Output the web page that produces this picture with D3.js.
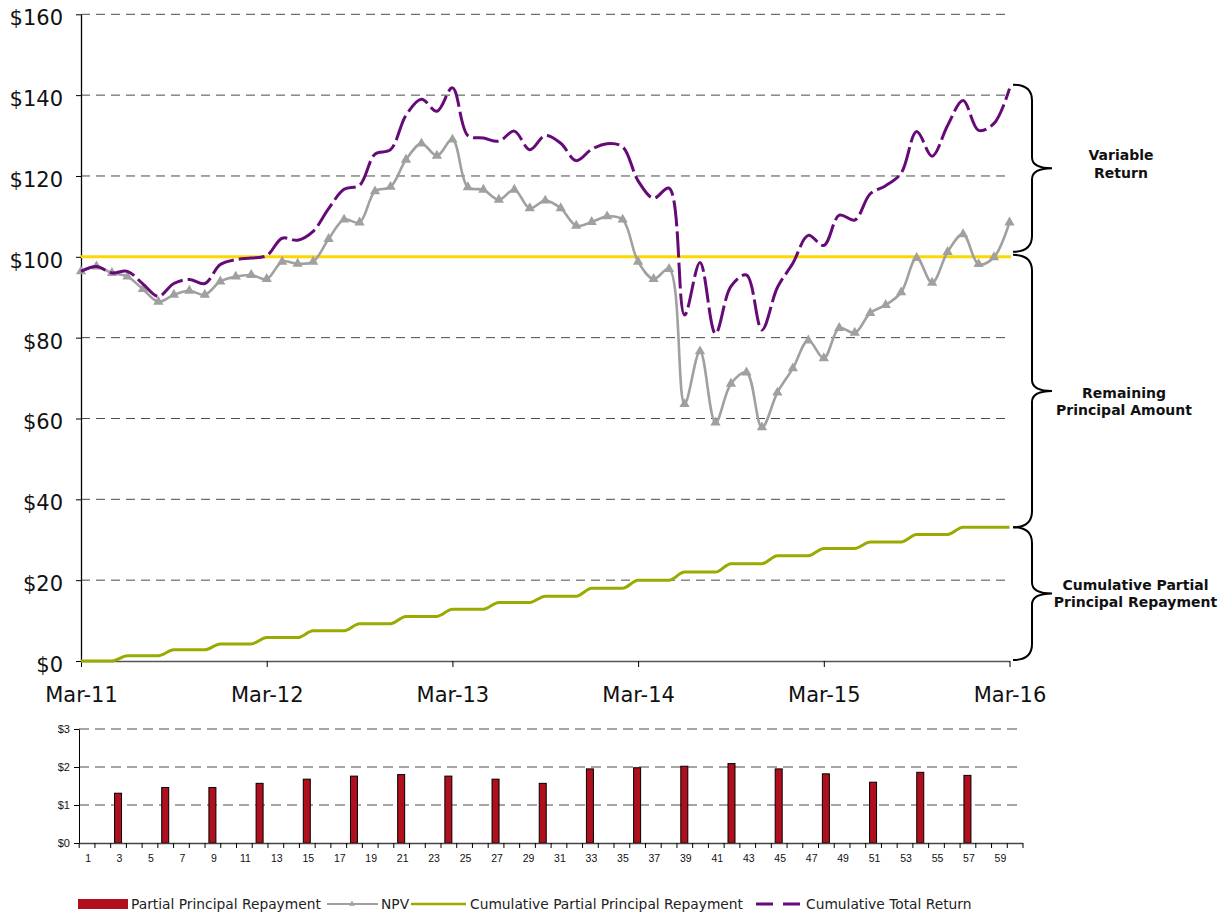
<!DOCTYPE html>
<html>
<head>
<meta charset="utf-8">
<script src="https://cdn.jsdelivr.net/npm/d3@7"></script>
<style>
  body { margin: 0; background: #fff; }
  svg { display: block; }
</style>
</head>
<body>
<div id="chart"></div>
<script>
// ---- data ----
const months = d3.range(0, 61);                 // month index, Mar-11 = 0
const yearTicks = [0, 12, 24, 36, 48, 60];
const yearLabels = ["Mar-11", "Mar-12", "Mar-13", "Mar-14", "Mar-15", "Mar-16"];
const principal = 100;

const npv = [96.4, 97.6, 96.0, 95.1, 92.0, 88.9, 90.6, 91.6, 90.6, 93.9,
  95.1, 95.5, 94.5, 98.8, 98.3, 98.8, 104.4, 109.2, 108.5, 116.2,
  117.3, 124.0, 128.0, 125.0, 129.0, 117.2, 116.6, 114.1, 116.6, 112.0,
  113.9, 112.0, 107.7, 108.6, 110.0, 109.2, 98.8, 94.5, 97.0, 63.6,
  76.6, 59.0, 68.6, 71.4, 57.8, 66.4, 72.4, 79.3, 74.9, 82.4,
  81.2, 86.1, 88.1, 91.2, 99.7, 93.6, 101.2, 105.6, 98.2, 99.9, 108.5];

const cumRepay = [0, 0, 0, 1.31, 1.31, 1.31, 2.77, 2.77, 2.77, 4.23,
  4.23, 4.23, 5.80, 5.80, 5.80, 7.48, 7.48, 7.48, 9.24, 9.24,
  9.24, 11.04, 11.04, 11.04, 12.80, 12.80, 12.80, 14.48, 14.48, 14.48,
  16.05, 16.05, 16.05, 18.00, 18.00, 18.00, 19.98, 19.98, 19.98, 22.00,
  22.00, 22.00, 24.09, 24.09, 24.09, 26.04, 26.04, 26.04, 27.86, 27.86,
  27.86, 29.46, 29.46, 29.46, 31.32, 31.32, 31.32, 33.10, 33.10, 33.10, 33.10];

const totalReturn = [96.4, 97.6, 96.0, 96.4, 93.3, 90.2, 93.4, 94.4, 93.4, 98.1,
  99.3, 99.7, 100.3, 104.6, 104.1, 106.3, 111.9, 116.7, 117.7, 125.4,
  126.5, 135.0, 139.0, 136.0, 141.8, 130.0, 129.4, 128.6, 131.1, 126.5,
  130.0, 128.1, 123.8, 126.6, 128.0, 127.2, 118.8, 114.5, 117.0, 85.6,
  98.6, 81.0, 92.7, 95.5, 81.9, 92.4, 98.4, 105.3, 102.8, 110.3,
  109.1, 115.6, 117.6, 120.7, 131.0, 124.9, 132.5, 138.7, 131.3, 133.0, 141.6];

const barCategories = d3.range(1, 61);
const repayMonths = [3, 6, 9, 12, 15, 18, 21, 24, 27, 30, 33, 36, 39, 42, 45, 48, 51, 54, 57];
const repayValues = [1.31, 1.46, 1.46, 1.57, 1.68, 1.76, 1.80, 1.76, 1.68, 1.57,
  1.95, 1.98, 2.02, 2.09, 1.95, 1.82, 1.60, 1.86, 1.78];

// ---- setup ----
const width = 1230, height = 913;
const svg = d3.select("#chart").append("svg")
  .attr("width", width)
  .attr("height", height)
  .style("font-family", "'DejaVu Sans', Verdana, sans-serif");

const purple = "#660a78", gray = "#a0a0a0", green = "#99aa00", gold = "#ffd700", red = "#b00f1e";

// ---- top chart ----
const x = d3.scaleLinear().domain([0, 60]).range([81, 1009.5]);
const y = d3.scaleLinear().domain([0, 160]).range([661, 14.3]);

// dashed grid
svg.append("g")
  .selectAll("line")
  .data(d3.range(20, 161, 20).filter(v => v !== principal))
  .join("line")
  .attr("x1", 81).attr("x2", 1011)
  .attr("y1", d => y(d)).attr("y2", d => y(d))
  .attr("stroke", "#4a4a4a")
  .attr("stroke-dasharray", "9,6");

const yAxis = svg.append("g")
  .attr("transform", "translate(81,0)")
  .call(d3.axisLeft(y).tickValues(d3.range(0, 161, 20)).tickSize(5).tickSizeOuter(0)
    .tickPadding(13).tickFormat(d => "$" + d));
yAxis.select(".domain").attr("stroke", "#000").attr("stroke-width", 1.3);
yAxis.selectAll("text").attr("font-size", 21).attr("fill", "#111").attr("dy", "0.5em")
  .style("font-family", "'DejaVu Sans', Verdana, sans-serif");

const xAxis = svg.append("g")
  .attr("transform", "translate(0,661)")
  .call(d3.axisBottom(x).tickValues(yearTicks).tickSize(6).tickSizeOuter(0)
    .tickPadding(20).tickFormat((d, i) => yearLabels[i]));
xAxis.select(".domain").attr("stroke", "#555").attr("stroke-width", 1.5);
xAxis.selectAll("text").attr("font-size", 21).attr("fill", "#111")
  .style("font-family", "'DejaVu Sans', Verdana, sans-serif");

// remaining principal level
svg.append("line")
  .attr("x1", x(0)).attr("x2", x(60) + 1.5)
  .attr("y1", y(principal)).attr("y2", y(principal))
  .attr("stroke", gold).attr("stroke-width", 3);

const lineOf = curve => d3.line()
  .x((d, i) => x(months[i]))
  .y(d => y(d))
  .curve(curve);

svg.append("path")
  .datum(cumRepay)
  .attr("d", lineOf(d3.curveMonotoneX))
  .attr("fill", "none").attr("stroke", green).attr("stroke-width", 3);

svg.append("path")
  .datum(npv)
  .attr("d", lineOf(d3.curveCatmullRom.alpha(0.5)))
  .attr("fill", "none").attr("stroke", gray).attr("stroke-width", 2.6);

svg.append("g")
  .selectAll("path")
  .data(npv)
  .join("path")
  .attr("transform", (d, i) => `translate(${x(months[i])},${y(d)})`)
  .attr("d", d3.symbol(d3.symbolTriangle, 46))
  .attr("fill", gray);

svg.append("path")
  .datum(totalReturn)
  .attr("d", lineOf(d3.curveCatmullRom.alpha(0.5)))
  .attr("fill", "none").attr("stroke", purple).attr("stroke-width", 3)
  .attr("stroke-dasharray", "26,5");

// braces on the right
function brace(x0, y1, y2) {
  const xs = x0 + 19, xt = x0 + 39, ym = (y1 + y2) / 2;
  const r = Math.min(16, (y2 - y1) / 6), rt = 11;
  return `M${x0},${y1} Q${xs},${y1} ${xs},${y1 + r} L${xs},${ym - rt} Q${xs},${ym} ${xt},${ym}` +
    ` Q${xs},${ym} ${xs},${ym + rt} L${xs},${y2 - r} Q${xs},${y2} ${x0},${y2}`;
}
const braces = [
  [y(totalReturn[60]) - 4, y(principal) - 5],
  [y(principal) - 2, y(cumRepay[60])],
  [y(cumRepay[60]), y(0) - 1]
];
svg.append("g")
  .selectAll("path")
  .data(braces)
  .join("path")
  .attr("d", d => brace(1013, d[0], d[1]))
  .attr("fill", "none").attr("stroke", "#000").attr("stroke-width", 2);

const notes = [
  { x: 1121, y: 159.5, t: "Variable" },
  { x: 1121, y: 178, t: "Return" },
  { x: 1124, y: 397.5, t: "Remaining" },
  { x: 1124, y: 414.5, t: "Principal Amount" },
  { x: 1135.5, y: 589.5, t: "Cumulative Partial" },
  { x: 1135.5, y: 607, t: "Principal Repayment" }
];
svg.append("g")
  .selectAll("text")
  .data(notes)
  .join("text")
  .attr("x", d => d.x).attr("y", d => d.y)
  .attr("text-anchor", "middle")
  .attr("font-size", 14).attr("font-weight", "bold").attr("fill", "#111")
  .text(d => d.t);

// ---- bottom bar chart ----
const xb = d3.scaleBand().domain(barCategories).range([78.7, 1022.5]);
const xbEdge = d3.scaleLinear().domain([0, 60]).range(xb.range());
const yb = d3.scaleLinear().domain([0, 3]).range([843, 729]);

svg.append("g")
  .selectAll("line")
  .data([1, 2, 3])
  .join("line")
  .attr("x1", 79).attr("x2", 1023)
  .attr("y1", d => yb(d)).attr("y2", d => yb(d))
  .attr("stroke", "#4a4a4a")
  .attr("stroke-dasharray", "10,6");

svg.append("g")
  .selectAll("rect")
  .data(repayMonths)
  .join("rect")
  .attr("x", d => xb(d) + xb.bandwidth() / 2 - 3.5)
  .attr("width", 7)
  .attr("y", (d, i) => yb(repayValues[i]))
  .attr("height", (d, i) => yb(0) - yb(repayValues[i]))
  .attr("fill", red).attr("stroke", "#000").attr("stroke-width", 1);

const bxTicks = svg.append("g")
  .attr("transform", "translate(0,843)")
  .call(d3.axisBottom(xbEdge).tickValues(d3.range(0, 61)).tickSize(5).tickSizeOuter(0).tickFormat(""));
bxTicks.select(".domain").attr("stroke", "#444").attr("stroke-width", 1.3);

const bxLabels = svg.append("g")
  .attr("transform", "translate(1.5,843)")
  .call(d3.axisBottom(xb).tickSize(0).tickPadding(12).tickFormat(d => d % 2 === 1 ? d : ""));
bxLabels.select(".domain").remove();
bxLabels.selectAll("text").attr("font-size", 10.5).attr("fill", "#111")
  .style("font-family", "'Liberation Sans', Arial, sans-serif");

const byAxis = svg.append("g")
  .attr("transform", "translate(79,0)")
  .call(d3.axisLeft(yb).tickValues([0, 1, 2, 3]).tickSize(5).tickSizeOuter(0)
    .tickPadding(4).tickFormat(d => "$" + d));
byAxis.select(".domain").attr("stroke", "#000");
byAxis.selectAll("text").attr("font-size", 11).attr("fill", "#111")
  .style("font-family", "'Liberation Sans', Arial, sans-serif");

// ---- legend ----
const legend = svg.append("g").attr("font-size", 13.8).attr("fill", "#222");
const ly = 904;
legend.append("rect").attr("x", 78).attr("y", 899).attr("width", 50).attr("height", 10).attr("fill", red);
legend.append("text").attr("x", 131).attr("y", ly + 4.5).text("Partial Principal Repayment");

legend.append("line").attr("x1", 327).attr("x2", 378).attr("y1", ly).attr("y2", ly)
  .attr("stroke", gray).attr("stroke-width", 2);
legend.append("path").attr("transform", `translate(352,${ly})`)
  .attr("d", d3.symbol(d3.symbolTriangle, 16)).attr("fill", gray);
legend.append("text").attr("x", 381).attr("y", ly + 4.5).text("NPV");

legend.append("line").attr("x1", 411).attr("x2", 466).attr("y1", ly).attr("y2", ly)
  .attr("stroke", green).attr("stroke-width", 2.5);
legend.append("text").attr("x", 470).attr("y", ly + 4.5).text("Cumulative Partial Principal Repayment");

legend.append("line").attr("x1", 756).attr("x2", 801).attr("y1", ly).attr("y2", ly)
  .attr("stroke", purple).attr("stroke-width", 3).attr("stroke-dasharray", "17,10");
legend.append("text").attr("x", 806).attr("y", ly + 4.5).text("Cumulative Total Return");
</script>
</body>
</html>
